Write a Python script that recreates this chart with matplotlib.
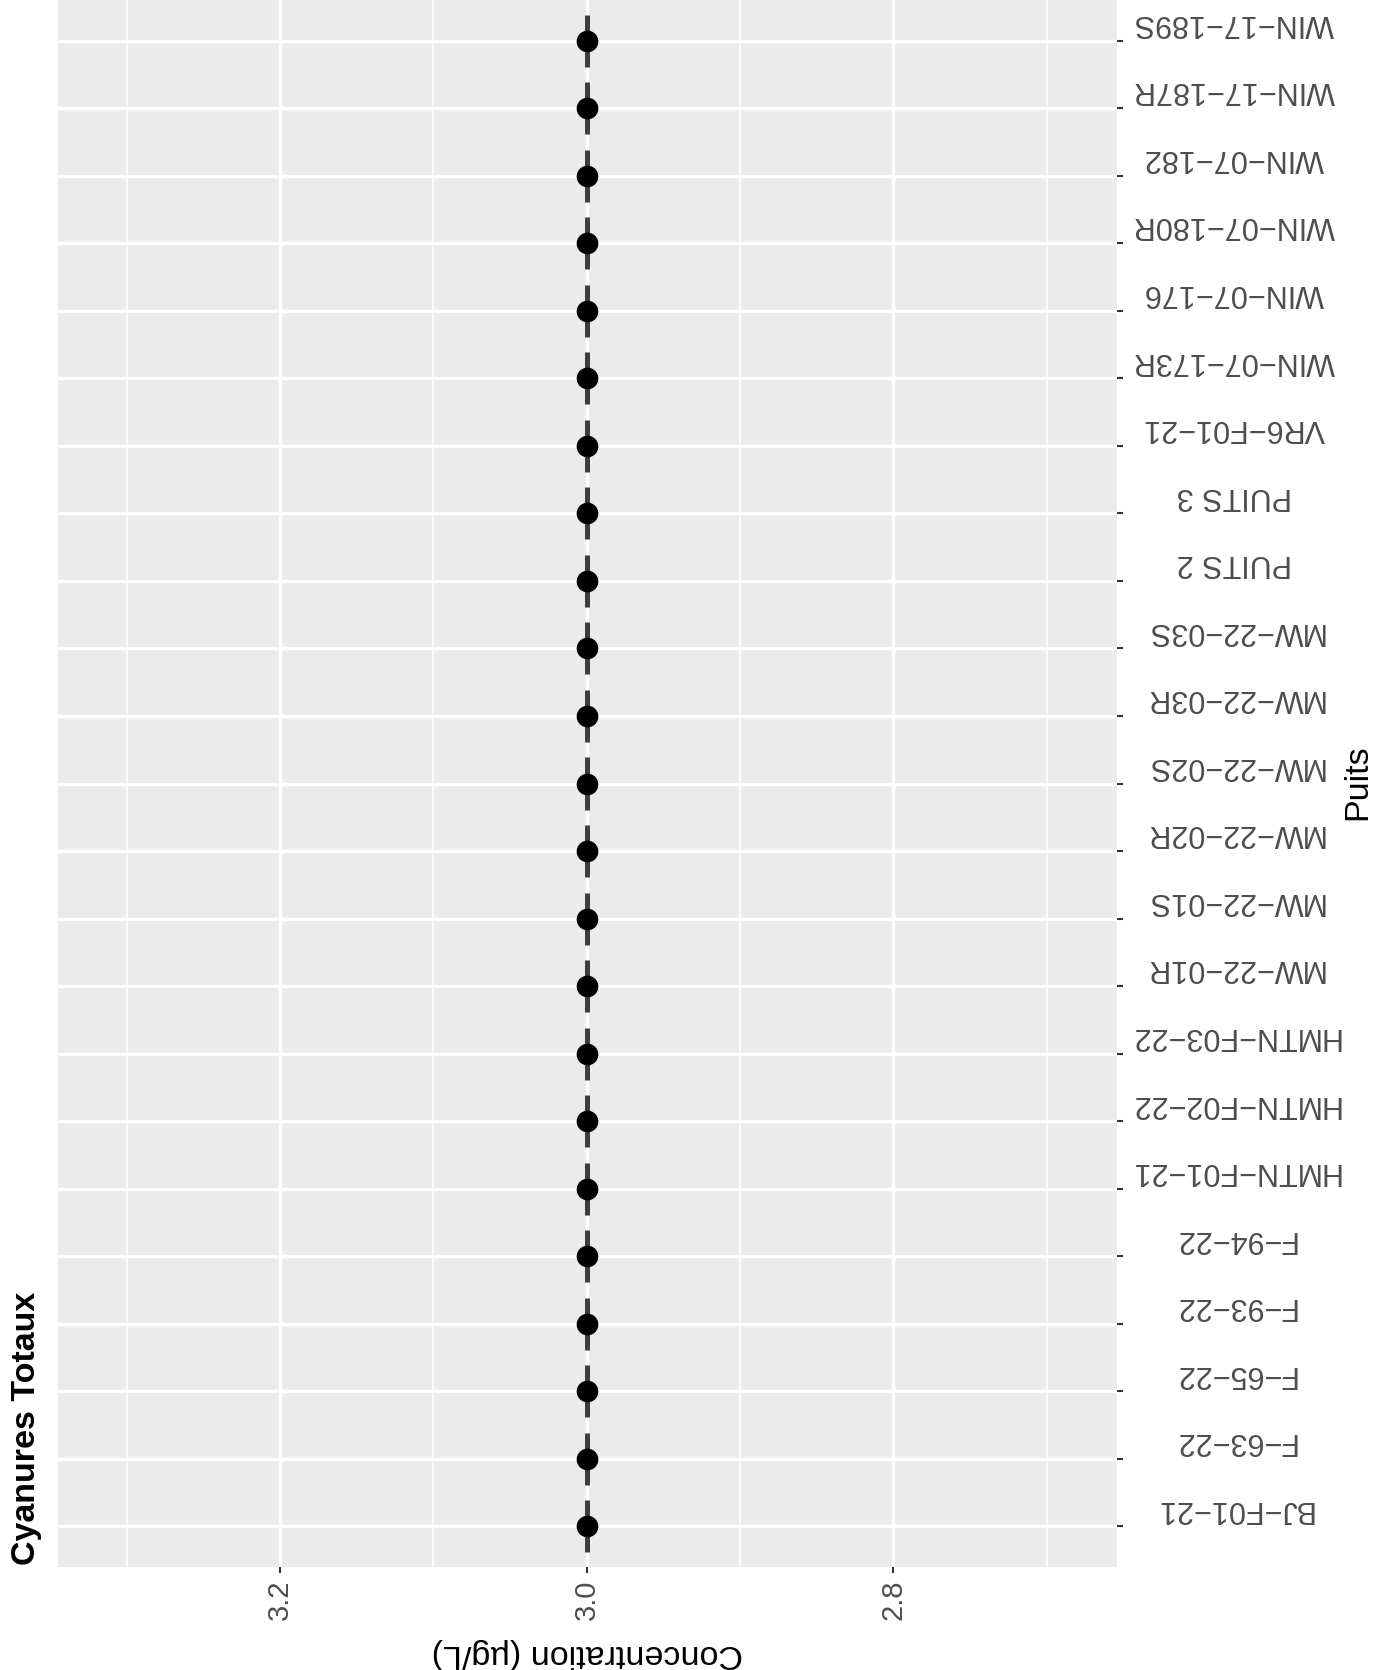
import matplotlib
matplotlib.use("Agg")
import matplotlib.pyplot as plt

plt.rcParams['font.family'] = ['Liberation Sans', 'DejaVu Sans']

# puits, de bas en haut
puits = ['BJ-F01-21', 'F-63-22', 'F-65-22', 'F-93-22', 'F-94-22',
         'HMTN-F01-21', 'HMTN-F02-22', 'HMTN-F03-22',
         'MW-22-01R', 'MW-22-01S', 'MW-22-02R', 'MW-22-02S', 'MW-22-03R', 'MW-22-03S',
         'PUITS 2', 'PUITS 3', 'VR6-F01-21',
         'WIN-07-173R', 'WIN-07-176', 'WIN-07-180R', 'WIN-07-182',
         'WIN-17-187R', 'WIN-17-189S']
concentration = [3.0, 3.0, 3.0, 3.0, 3.0, 3.0, 3.0, 3.0, 3.0, 3.0, 3.0, 3.0,
                 3.0, 3.0, 3.0, 3.0, 3.0, 3.0, 3.0, 3.0, 3.0, 3.0, 3.0]
major_ticks = [3.2, 3.0, 2.8]
major_labels = ['3.2', '3.0', '2.8']
minor_ticks = [3.3, 3.1, 2.9, 2.7]

W, H = 1389, 1670
fig = plt.figure(figsize=(W / 100, H / 100), dpi=100)
ax = fig.add_axes([58 / W, 103 / H, 1059 / W, 1567 / H])
ax.set_facecolor('#EBEBEB')
for s in ax.spines.values():
    s.set_visible(False)

pos = list(range(len(puits)))

# traits pointillés + points
ax.vlines(concentration, [p - 0.385 for p in pos], [p + 0.385 for p in pos],
          colors='#3d3d3d', linewidth=3.6, zorder=3)
ax.plot(concentration, pos, 'o', color='black', markersize=14.6, zorder=4)

ax.set_xlim(3.345, 2.654)
ax.set_ylim(-0.6, len(puits) - 0.4)

ax.set_xticks(major_ticks)
ax.set_xticklabels(major_labels)
ax.set_xticks(minor_ticks, minor=True)
ax.set_yticks(pos)
ax.yaxis.tick_right()

ax.grid(which='major', color='white', linewidth=2.4)
ax.grid(which='minor', axis='x', color='white', linewidth=1.2)
ax.set_axisbelow(True)

ax.tick_params(axis='x', which='major', length=4.3, width=1.5, color='#333333',
               labelsize=21, labelcolor='#4D4D4D', labelrotation=90, pad=5)
ax.tick_params(axis='x', which='minor', length=0)
ax.tick_params(axis='y', length=4.3, width=1.5, color='#333333',
               labelright=False, labelleft=False)

# étiquettes des puits (à l'envers, tirets rendus comme dans R)
for p, name in zip(pos, puits):
    ax.text(1.1105, p + 0.04, name.replace('-', '\u2212'),
            transform=ax.get_yaxis_transform(),
            rotation=180, rotation_mode='anchor', ha='center', va='top',
            fontsize=22, color='#4D4D4D')

fig.text(26 / W, 105 / H, 'Cyanures Totaux', rotation=90, rotation_mode='anchor',
         ha='left', va='center', fontsize=24.5, fontweight='bold')
fig.text(587.5 / W, (H - 1653) / H, 'Concentration (µg/L)', rotation=180,
         ha='center', va='center', fontsize=24.5)
fig.text(1358 / W, (H - 782) / H, 'Puits', rotation=90,
         ha='center', va='center', fontsize=24.5)

fig.savefig('out.png', dpi=100)
